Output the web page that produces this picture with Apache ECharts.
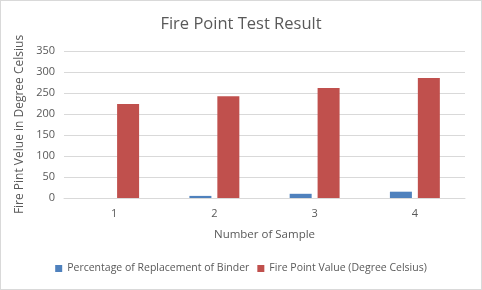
<!DOCTYPE html>
<html><head><meta charset="utf-8">
<script src="https://cdn.jsdelivr.net/npm/echarts@6/dist/echarts.min.js"></script>
<style>html,body{margin:0;padding:0;background:#fff}#c{width:480px;height:288px;border:1px solid #d9d9d9}</style>
</head><body><div id="c"></div>
<script>
const categories = ['1','2','3','4'];
const replacementPct = [0, 5, 10, 15];
const firePoint = [224, 242, 262, 286];
const seriesNames = ['Percentage of Replacement of Binder', 'Fire Point Value (Degree Celsius)'];
const chart = echarts.init(document.getElementById('c'));
const font = 'Open Sans';
chart.setOption({
  animation:false,
  title:{text:'Fire Point Test Result',left:'center',top:10,textStyle:{fontFamily:font,fontSize:16.5,fontWeight:'normal',color:'#595959'}},
  legend:{bottom:10,left:'center',itemWidth:7,itemHeight:7,itemGap:8,icon:'rect',textStyle:{fontFamily:font,fontSize:10.5,color:'#595959'},data:seriesNames},
  grid:{left:63,right:16,top:50,bottom:91},
  xAxis:{type:'category',data:categories,name:'Number of Sample',nameLocation:'middle',nameGap:31,
    nameTextStyle:{fontFamily:font,fontSize:11.5,color:'#595959'},
    axisLine:{lineStyle:{color:'#d9d9d9'}},axisTick:{show:false},
    axisLabel:{fontFamily:font,fontSize:11,color:'#595959',margin:10}},
  yAxis:{type:'value',min:0,max:350,interval:50,name:'Fire Pint Velue in Degree Celsius',nameLocation:'middle',nameGap:32,
    nameTextStyle:{fontFamily:font,fontSize:12,color:'#595959'},
    axisLine:{show:false},axisTick:{show:false},
    axisLabel:{fontFamily:font,fontSize:11,color:'#595959',margin:9},
    splitLine:{lineStyle:{color:'#d9d9d9'}}},
  series:[
    {name:seriesNames[0],type:'bar',data:replacementPct,itemStyle:{color:'#4f81bd'},barWidth:22,barGap:'27%'},
    {name:seriesNames[1],type:'bar',data:firePoint,itemStyle:{color:'#c0504d'},barWidth:22}
  ]
});
</script></body></html>
